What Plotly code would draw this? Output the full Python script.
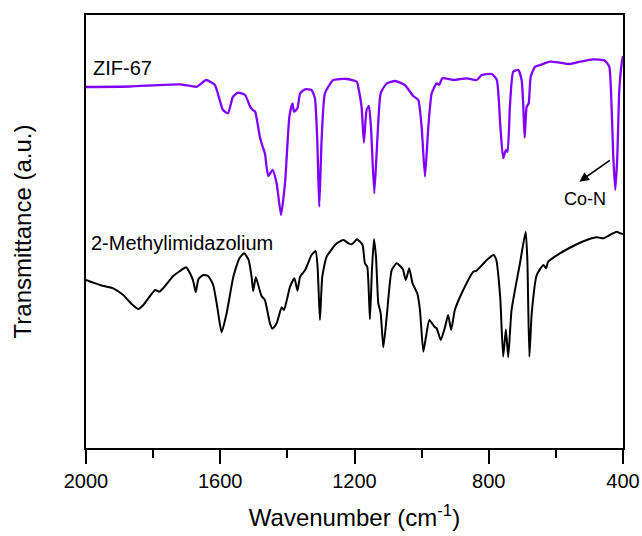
import plotly.graph_objects as go

# ZIF-67 spectrum (wavenumber, transmittance a.u.)
zif_wn = [2000, 1869, 1720, 1670, 1642, 1616, 1592, 1577, 1562, 1547, 1526, 1511, 1503, 1496,
          1482, 1473, 1467, 1457, 1444, 1432, 1419, 1407, 1394, 1385, 1380, 1370, 1362, 1347,
          1328, 1318, 1311, 1305, 1298, 1288, 1263, 1223, 1193, 1189, 1179, 1172, 1164, 1157,
          1151, 1141, 1132, 1122, 1104, 1079, 1050, 1025, 1010, 1000, 990, 980, 970, 955, 948,
          938, 906, 866, 836, 821, 791, 776, 766, 757, 749, 744, 737, 727, 712, 702, 697, 693,
          687, 681, 675, 662, 647, 618, 588, 558, 528, 489, 454, 441, 434, 429, 423, 417, 411,
          404, 400]
zif_t = [361, 361.5, 363.7, 361.3, 368, 363, 338, 334.7, 351.3, 355.3, 353, 341.3, 338, 336.3,
         311.3, 300.7, 294.7, 272, 278, 264.7, 233, 265, 331.3, 344.7, 336.3, 339.7, 354.7, 358.7,
         358, 349.7, 308, 241.3, 308, 354.7, 368, 369, 366.3, 361.3, 341.3, 305.3, 338, 342,
         321.3, 254.7, 308, 354.7, 364.7, 367, 363, 352, 348, 321.3, 271.3, 321.3, 354.7, 364.7, 363,
         369.7, 368, 369.7, 368, 373, 374, 368, 324.7, 289.7, 298, 296.3, 341.3, 376.3, 378, 368, 341.3, 310.3,
         341.3, 344.7, 371.3, 381.3, 383, 386.3, 385.3, 384, 386.3, 388.7, 387.3, 381.3, 341.3, 291.3, 258, 291.3, 358,
         384.7, 392]

# 2-Methylimidazolium spectrum
mim_wn = [2000, 1958, 1919, 1889, 1864, 1844, 1829, 1794, 1782, 1770, 1740, 1720, 1702, 1690,
          1680, 1673, 1665, 1651, 1636, 1621, 1609, 1596, 1581, 1561, 1543, 1529, 1516, 1506,
          1502, 1494, 1484, 1477, 1467, 1452, 1444, 1432, 1417, 1410, 1392, 1379, 1370, 1362,
          1347, 1328, 1316, 1310, 1303, 1296, 1283, 1253, 1233, 1218, 1208, 1193, 1189, 1176,
          1169, 1162, 1154, 1148, 1142, 1136, 1129, 1122, 1114, 1104, 1089, 1074, 1056, 1047,
          1037, 1027, 1013, 1005, 995, 987, 977, 962, 955, 943, 930, 921, 912, 901, 876, 846,
          836, 806, 786, 778, 766, 757, 749, 742, 732, 707, 690, 685, 679, 672, 657, 637, 629,
          623, 588, 548, 508, 478, 459, 439, 419, 409, 400]
mim_t = [168, 163, 159.7, 153, 144, 139, 143, 158, 156.3, 159.7, 172, 177, 180.7, 174.7,
         166.3, 155.7, 168.7, 173, 172, 163, 141.3, 115.7, 134.7, 171.3, 189.7, 194.7, 188.7, 169.7,
         157, 170.7, 159.7, 152, 148, 124.7, 119.3, 124.7, 140.7, 138, 161.3, 169.7, 157.3, 171.3,
         178, 193, 197, 181.3, 128, 171.3, 191.3, 204.7, 208, 204.7, 203.7, 208.7, 208, 203,
         184.7, 181.3, 128.7, 178, 208.7, 191.3, 144.7, 134.7, 100.7, 131.3, 178, 184.7, 178.7, 168,
         179.7, 164.7, 154.7, 138, 96.3, 111.3, 128, 121.3, 119.7, 108, 121.3, 133, 118, 138, 158, 176.3,
         177.3, 188, 193, 188.7, 151.3, 91.3, 118.7, 90.7, 138, 184.7, 216.3, 188, 91.3, 134.7, 173, 183, 179.7,
         186.3, 194.7, 202, 208, 210.7, 209.7, 213, 216.3, 214.7, 214]

x_ticks = [2000, 1600, 1200, 800, 400]
x_minor = [1800, 1400, 1000, 600]

FONT = "Liberation Sans, Arial, sans-serif"

fig = go.Figure()
fig.add_trace(go.Scatter(x=zif_wn, y=zif_t, mode="lines",
                         line=dict(color="#8000FF", width=2.3, shape="spline", smoothing=0.5),
                         showlegend=False))
fig.add_trace(go.Scatter(x=mim_wn, y=mim_t, mode="lines",
                         line=dict(color="black", width=2, shape="spline", smoothing=0.5),
                         showlegend=False))

fig.add_annotation(x=1984, y=380, text="ZIF-67", showarrow=False, xanchor="left", yanchor="middle",
                   font=dict(size=20, color="black", family=FONT))
fig.add_annotation(x=1992, y=205.5, text="2-Methylimidazolium", showarrow=False, xanchor="left",
                   yanchor="middle", font=dict(size=20, color="black", family=FONT))
fig.add_annotation(x=513, y=249.3, text="Co-N", showarrow=False, xanchor="center", yanchor="middle",
                   font=dict(size=18, color="black", family=FONT))
# Co-N arrow: tail near the peak, head near the label
fig.add_annotation(x=530, y=266.3, ax=435, ay=288.7, axref="x", ayref="y", xref="x", yref="y",
                   text="", showarrow=True, arrowhead=2, arrowsize=1.2, arrowwidth=1.6,
                   arrowcolor="black")

fig.update_layout(
    width=642, height=536,
    margin=dict(l=86, r=19, t=15, b=88, autoexpand=False),
    paper_bgcolor="white", plot_bgcolor="white",
    font=dict(family=FONT, color="black"),
    xaxis=dict(range=[2000, 400], tickvals=x_ticks, ticktext=[str(v) for v in x_ticks],
               ticks="outside", ticklen=14, tickwidth=1.5, tickcolor="black",
               showline=True, linewidth=2, linecolor="black", mirror=True,
               showgrid=False, zeroline=False, automargin=False,
               tickfont=dict(size=20, family=FONT),
               minor=dict(tickvals=x_minor, ticks="outside", ticklen=8,
                          tickwidth=1.5, tickcolor="black", showgrid=False),
               title=dict(text="Wavenumber (cm<sup>-1</sup>)", font=dict(size=24, family=FONT),
                          standoff=18)),
    yaxis=dict(range=[0, 433], showticklabels=False, ticks="",
               showline=True, linewidth=2, linecolor="black", mirror=True,
               showgrid=False, zeroline=False, automargin=False,
               title=dict(text="Transmittance (a.u.)", font=dict(size=24, family=FONT),
                          standoff=46)),
)

fig.write_html("out.html")
